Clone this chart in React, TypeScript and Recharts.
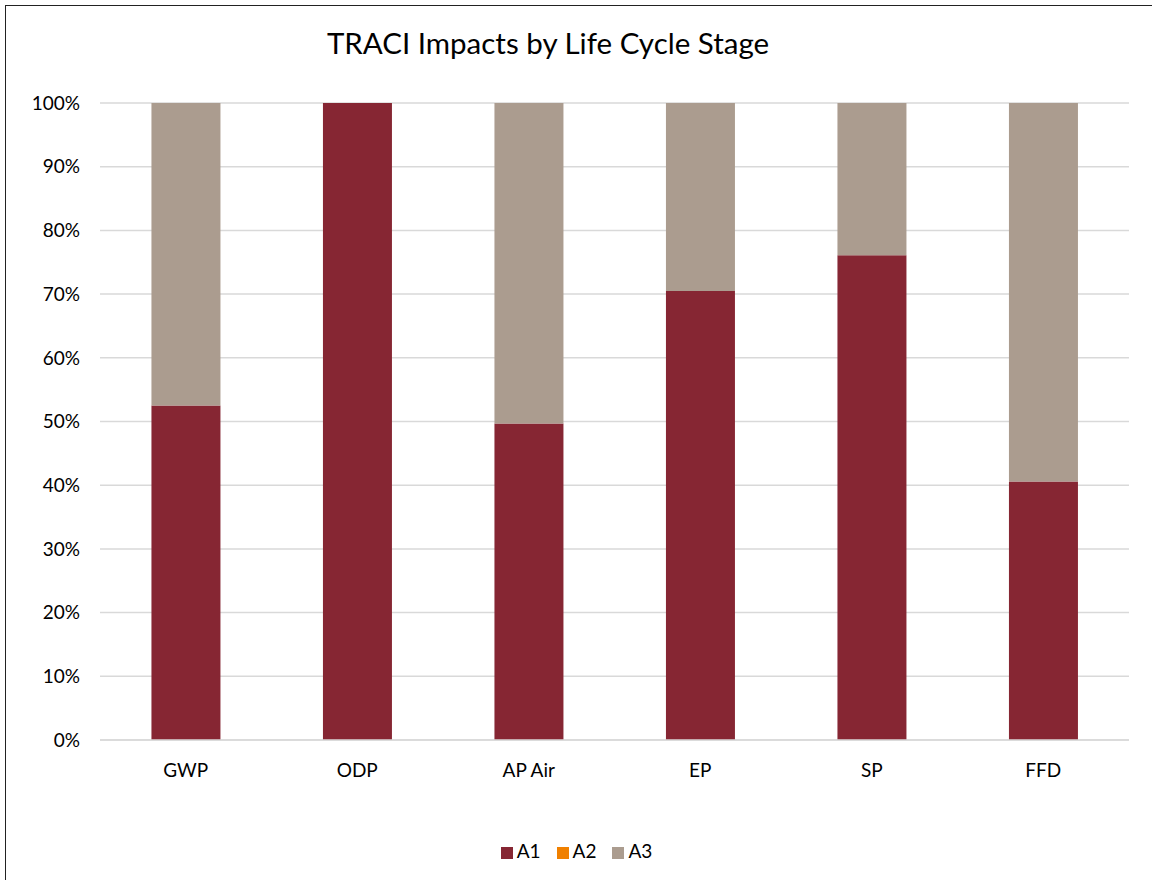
import { BarChart, Bar, XAxis, YAxis, CartesianGrid, Legend } from "recharts";

const stages = ["GWP", "ODP", "AP Air", "EP", "SP", "FFD"];
const a1 = [52.5, 100, 49.7, 70.5, 76.1, 40.6];
const a2 = [0, 0, 0, 0, 0, 0];
const a3 = [47.5, 0, 50.3, 29.5, 23.9, 59.4];
const yTicks = [0, 10, 20, 30, 40, 50, 60, 70, 80, 90, 100];

const data = stages.map((s, i) => ({ stage: s, A1: a1[i], A2: a2[i], A3: a3[i] }));

const FONT = "Lato, 'Liberation Sans', sans-serif";

export default function App() {
  return (
    <div style={{ position: "absolute", left: 0, top: 0, width: 1152, height: 880, background: "#fff", overflow: "hidden", fontFamily: FONT }}>
      {/* chart frame, only top/left edges in view */}
      <div style={{ position: "absolute", left: 5, top: 5, width: 1200, height: 940, border: "1.5px solid #222", boxSizing: "border-box" }} />
      <div style={{ position: "absolute", left: 0, top: 25, width: 1096, textAlign: "center", fontSize: 29.5, color: "#000" }}>
        TRACI Impacts by Life Cycle Stage
      </div>
      <div style={{ position: "absolute", left: 0, top: 0 }}>
        <BarChart
          width={1152}
          height={880}
          data={data}
          barCategoryGap="30%"
          margin={{ top: 103, right: 23, left: 40, bottom: 15 }}
        >
          <CartesianGrid vertical={false} stroke="#d9d9d9" strokeWidth={1.5} />
          <XAxis
            dataKey="stage"
            height={99}
            axisLine={{ stroke: "#d9d9d9", strokeWidth: 1.5 }}
            tickLine={false}
            tickMargin={18}
            tick={{ fontSize: 19, fill: "#000", fontFamily: FONT }}
          />
          <YAxis
            width={60}
            domain={[0, 100]}
            ticks={yTicks}
            tickFormatter={(v) => `${v}%`}
            axisLine={false}
            tickLine={false}
            tickMargin={14}
            tick={{ fontSize: 19, fill: "#000", fontFamily: FONT }}
          />
          <Legend
            verticalAlign="bottom"
            height={26}
            iconType="square"
            iconSize={12}
            wrapperStyle={{ fontSize: 19, fontFamily: FONT }}
            formatter={(v) => <span style={{ color: "#000", marginRight: 6 }}>{v}</span>}
          />
          <Bar dataKey="A1" stackId="s" fill="#862633" isAnimationActive={false} />
          <Bar dataKey="A2" stackId="s" fill="#f08000" isAnimationActive={false} />
          <Bar dataKey="A3" stackId="s" fill="#ab9c8f" isAnimationActive={false} />
        </BarChart>
      </div>
    </div>
  );
}
